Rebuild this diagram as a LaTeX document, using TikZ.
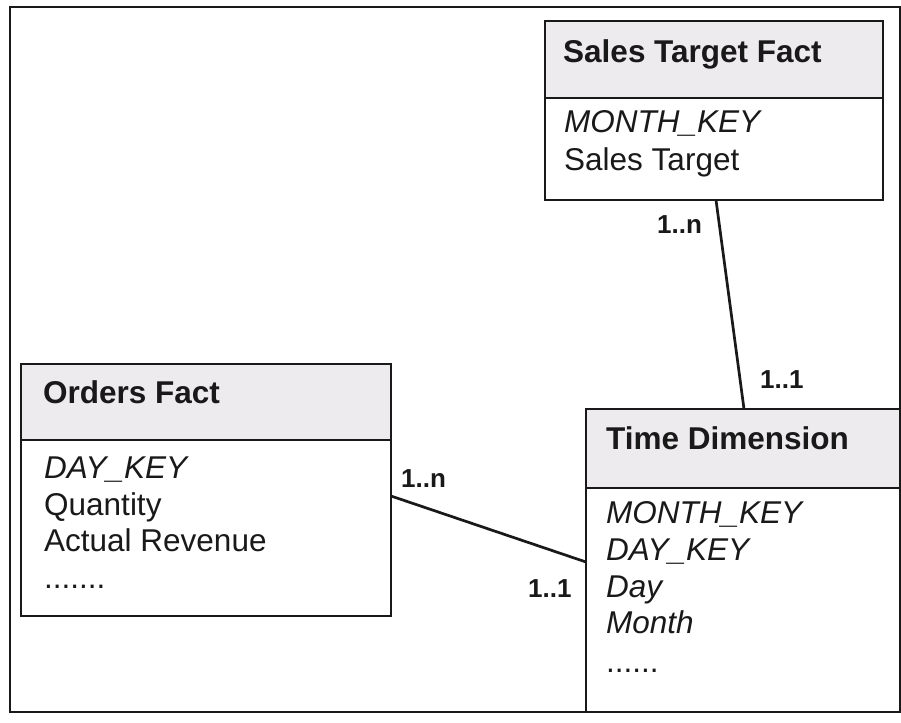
\documentclass[tikz,border=0pt]{standalone}
\usepackage{fontspec}
\setmainfont{Liberation Sans}
\usetikzlibrary{calc}
\definecolor{hdrgrey}{RGB}{238,235,238}
\definecolor{ink}{RGB}{25,25,25}
\begin{document}
\begin{tikzpicture}[x=1pt,y=-1pt,
  hdr/.style={draw=ink, line width=2pt, fill=hdrgrey, inner sep=0pt, outer sep=0pt, anchor=north west},
  bdy/.style={draw=ink, line width=2pt, fill=white, inner sep=0pt, outer sep=0pt, anchor=north west},
  ttl/.style={anchor=base west, inner sep=0pt, text=ink, font=\fontsize{31.5}{37}\selectfont\bfseries},
  fld/.style={anchor=base west, inner sep=0pt, text=ink, font=\fontsize{31.5}{37}\selectfont},
  key/.style={fld, font=\fontsize{31.5}{37}\selectfont\itshape},
  card/.style={anchor=base west, inner sep=0pt, text=ink, font=\fontsize{26}{30}\selectfont\bfseries},
  link/.style={draw=ink, line width=2.7pt}]
\useasboundingbox (0,0) rectangle (901,722);
\fill[white] (0,0) rectangle (901,722);
\draw[line width=2.6pt, draw=ink] (10,7) rectangle (900,712);

% Sales Target Fact
\node[hdr, minimum width=338pt, minimum height=77pt] (stfH) at (545,21) {};
\node[bdy, minimum width=338pt, minimum height=102pt] (stfB) at (stfH.south west) {};
\node[ttl] (stfT) at (563,63) {Sales Target Fact};
\node[key] (stf1) at (564,133) {MONTH\_KEY};
\node[fld] (stf2) at (564,171) {Sales Target};

% Orders Fact
\node[hdr, minimum width=370pt, minimum height=76pt] (ofH) at (21,364) {};
\node[bdy, minimum width=370pt, minimum height=176pt] (ofB) at (ofH.south west) {};
\node[ttl] (ofT) at (43,403) {Orders Fact};
\node[key] (of1) at (44,478) {DAY\_KEY};
\node[fld] (of2) at (44,515) {Quantity};
\node[fld] (of3) at (44,551) {Actual Revenue};
\node[fld] (of4) at (44,588) {.......};

% Time Dimension
\node[hdr, minimum width=314pt, minimum height=79pt] (tdH) at (586,409) {};
\node[bdy, minimum width=314pt, minimum height=224pt] (tdB) at (tdH.south west) {};
\node[ttl] (tdT) at (606,449) {Time Dimension};
\node[key] (td1) at (606,523) {MONTH\_KEY};
\node[key] (td2) at (606,560) {DAY\_KEY};
\node[key] (td3) at (606,597) {Day};
\node[key] (td4) at (606,633) {Month};
\node[fld] (td5) at (606,672) {......};

% connectors
\draw[link] ($(stfB.south west)+(171pt,0pt)$) -- ($(tdH.north west)+(158pt,0pt)$);
\draw[link] ($(ofH.north east)+(0pt,-132pt)$) -- ($(tdH.north west)+(0pt,-153pt)$);

% cardinalities
\node[card] (c1) at (657,233) {1..n};
\node[card] (c2) at (760,388) {1..1};
\node[card] (c3) at (401,487) {1..n};
\node[card] (c4) at (528,597) {1..1};
\end{tikzpicture}
\end{document}
